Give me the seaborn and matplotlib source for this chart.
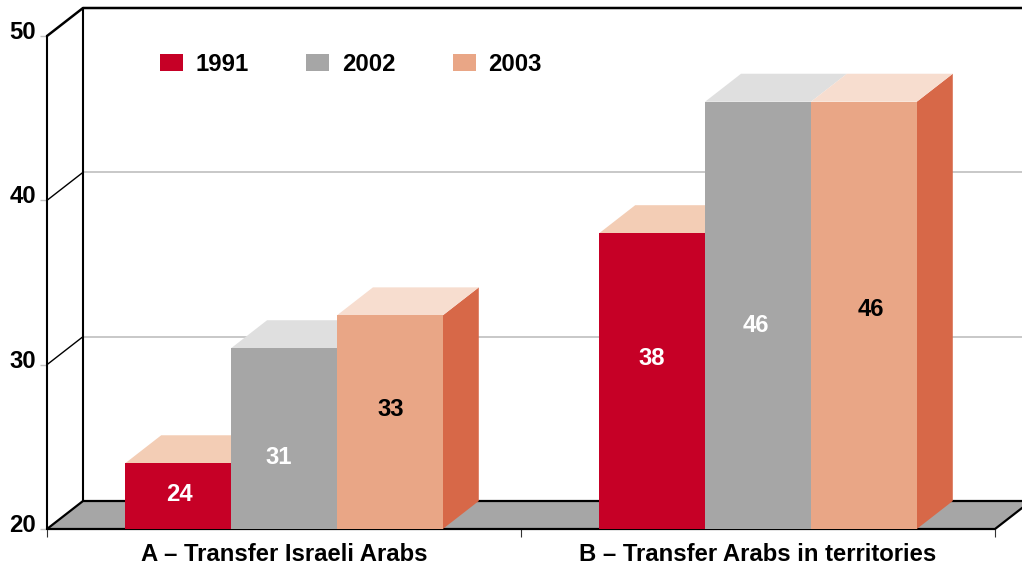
import matplotlib
matplotlib.use("Agg")
import matplotlib.pyplot as plt
from matplotlib.patches import Polygon
from matplotlib.transforms import ScaledTranslation
import pandas as pd
import seaborn as sns

groups = ["A – Transfer Israeli Arabs", "B – Transfer Arabs in territories"]
years = ["1991", "2002", "2003"]
values_a = [24, 31, 33]
values_b = [38, 46, 46]
front_colors = ["#C60026", "#A6A6A6", "#E9A686"]
top_colors = ["#F3CDB5", "#DFDFDF", "#F7DDCF"]
side_color = "#D76848"
label_colors = ["white", "white", "black"]
y_ticks = [20, 30, 40, 50]

# label heights (value-axis units) and horizontal nudges (px), as placed in the original
label_y = [22.08, 24.38, 27.25, 30.38, 32.38, 33.33]
label_dx = [1.5, -5, 0.5, -0.5, -2.5, 7]

W, H = 1022, 569
X0, X1, Y_TOP, Y_BOT = 47, 995, 36, 529
DEPTH_X, DEPTH_Y = 36, 28

sns.set_theme(style="white")
plt.rcParams["font.family"] = ["Liberation Sans", "DejaVu Sans"]
plt.rcParams["font.weight"] = "bold"
FS = 17.2

df = pd.DataFrame({
    "group": [groups[0]] * 3 + [groups[1]] * 3,
    "year": years * 2,
    "value": values_a + values_b,
})

fig = plt.figure(figsize=(W / 100, H / 100), dpi=100, facecolor="white")
ax = fig.add_axes([X0 / W, 1 - Y_BOT / H, (X1 - X0) / W, (Y_BOT - Y_TOP) / H])
ax.patch.set_alpha(0)

sns.barplot(data=df, x="group", y="value", hue="year", hue_order=years,
            palette=front_colors, saturation=1, width=0.67, gap=0, dodge=True,
            linewidth=0, ax=ax, zorder=10)
ax.set_xlim(-0.5, 1.5)
ax.set_ylim(20, 50)
ax.set_xlabel("")
ax.set_ylabel("")
for s in ax.spines.values():
    s.set_visible(False)

dx = DEPTH_X * 2 / (X1 - X0)
dy = DEPTH_Y * 30 / (Y_BOT - Y_TOP)
xl, xr = -0.5, 1.5

# floor
ax.add_patch(Polygon([(xl, 20), (xl + dx, 20 + dy), (xr + dx, 20 + dy), (xr, 20)],
                     closed=True, fc="#A6A6A6", ec="none", clip_on=False, zorder=1))
line = dict(color="black", clip_on=False, solid_capstyle="round")
ax.plot([xl, xr, xr + dx], [20, 20, 20 + dy], lw=1.6, zorder=2, **line)
ax.plot([xl, xl + dx, xr + dx], [20, 20 + dy, 20 + dy], lw=1.6, zorder=2, **line)
# walls
ax.plot([xl, xl], [20, 50], lw=1.5, zorder=2, **line)
ax.plot([xl + dx, xl + dx], [20 + dy, 50 + dy], lw=1.5, zorder=2, **line)
ax.plot([xl, xl + dx, xr + dx], [50, 50 + dy, 50 + dy], lw=1.8, zorder=2, **line)
for v in y_ticks[1:3]:
    ax.plot([xl, xl + dx], [v, v + dy], lw=1.0, zorder=2, **line)
    ax.plot([xl + dx, xr + dx], [v + dy, v + dy], lw=1.3, color="#C4C4C4",
            clip_on=False, zorder=1.5)

# 3D faces: tops for every bar, side only where it can be seen (last series)
for i, container in enumerate(ax.containers):
    for bar in container:
        x0, x1, top = bar.get_x(), bar.get_x() + bar.get_width(), bar.get_height()
        if i == len(ax.containers) - 1:
            ax.add_patch(Polygon([(x1, 20), (x1 + dx, 20 + dy), (x1 + dx, top + dy), (x1, top)],
                                 closed=True, fc=side_color, ec="none",
                                 clip_on=False, zorder=3 + i))
        ax.add_patch(Polygon([(x0, top), (x0 + dx, top + dy), (x1 + dx, top + dy), (x1, top)],
                             closed=True, fc=top_colors[i], ec="none",
                             clip_on=False, zorder=3 + i))

# value labels
for g in range(2):
    for i, container in enumerate(ax.containers):
        bar = container[g]
        ax.annotate(str(int(bar.get_height())),
                    xy=(bar.get_x() + bar.get_width() / 2, label_y[g * 3 + i]),
                    xytext=(label_dx[g * 3 + i] * 0.72, 0), textcoords="offset points",
                    ha="center", va="center", fontsize=FS, fontweight="bold",
                    color=label_colors[i], zorder=20)

# axes ticks
ax.set_yticks(y_ticks)
ax.set_yticklabels([str(v) for v in y_ticks], fontsize=FS, fontweight="bold", color="black")
ax.tick_params(axis="y", left=True, length=5, width=1, color="#BFBFBF", pad=3)
offset = ScaledTranslation(0, 6 / 100, fig.dpi_scale_trans)
for lab in ax.get_yticklabels():
    lab.set_transform(lab.get_transform() + offset)
ax.set_xticks([0, 1])
ax.set_xticklabels(groups, fontsize=FS, fontweight="bold", color="black")
ax.set_xticks([-0.5, 0.5, 1.5], minor=True)
ax.tick_params(axis="x", which="major", bottom=False, length=0, pad=10)
ax.tick_params(axis="x", which="minor", bottom=True, length=5.8, width=0.8, color="#333333")

# legend
handles, labels = ax.get_legend_handles_labels()
ax.legend(handles, labels, ncols=3, frameon=False, loc="upper left",
          bbox_to_anchor=(160 / W, 1 - 53 / H), bbox_transform=fig.transFigure,
          prop={"size": FS, "weight": "bold"}, borderpad=0, borderaxespad=0,
          handlelength=0.96, handleheight=0.75, handletextpad=0.54, columnspacing=2.39,
          labelcolor="black")

fig.savefig("out.png", dpi=100, facecolor="white")
